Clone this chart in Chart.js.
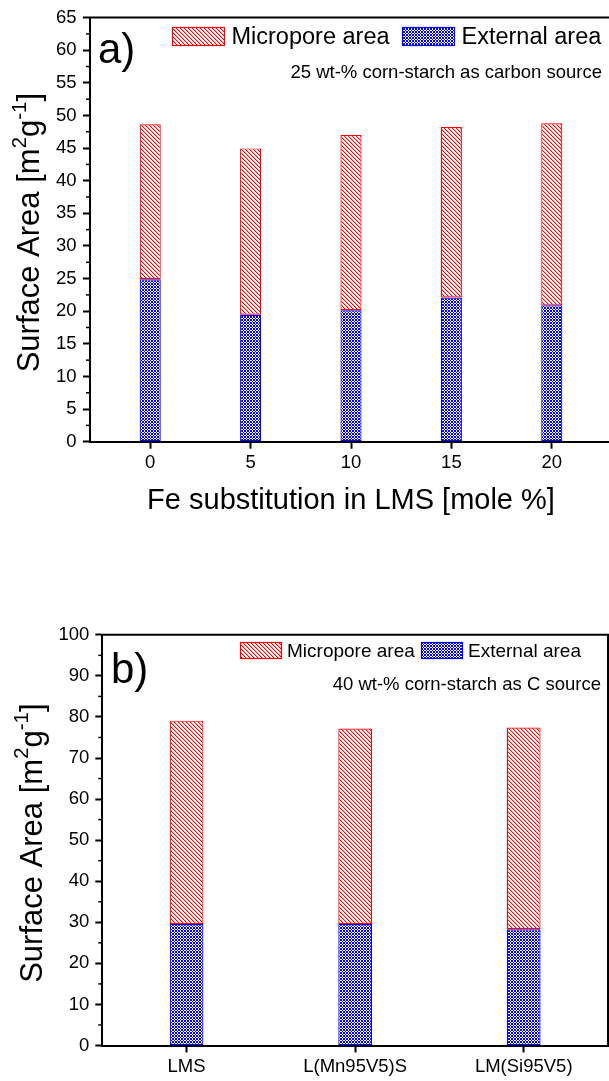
<!DOCTYPE html>
<html>
<head>
<meta charset="utf-8">
<script src="https://cdn.jsdelivr.net/npm/chart.js@4.4.1/dist/chart.umd.min.js"></script>
<style>
  html, body { margin: 0; padding: 0; background: #fff; width: 609px; height: 1081px; overflow: hidden; }
  canvas { position: absolute; left: 0; }
  #chartA { top: 0; }
  #chartB { top: 560px; }
</style>
</head>
<body>
<canvas id="chartA" width="620" height="530"></canvas>
<canvas id="chartB" width="609" height="521"></canvas>
<script>
// panel a) : Fe substitution series
const feLevels = [0, 5, 10, 15, 20];
const externalA = [24.9, 19.45, 20.15, 22.1, 20.9];
const microporeA = [23.75, 25.5, 26.85, 26.15, 27.9];
const yTicksA = [0, 5, 10, 15, 20, 25, 30, 35, 40, 45, 50, 55, 60, 65];

// panel b) : samples with 40 wt-% starch
const samples = ['LMS', 'L(Mn95V5)S', 'LM(Si95V5)'];
const externalB = [29.6, 29.6, 28.3];
const microporeB = [49.5, 47.6, 49.1];
const yTicksB = [0, 10, 20, 30, 40, 50, 60, 70, 80, 90, 100];

const FONT = "'Liberation Sans', Arial, Helvetica, sans-serif";
Chart.defaults.font.family = FONT;
Chart.defaults.color = '#000';

// hatch patterns: red "\\\" lines (4 px) and blue crosshatch (3 px)
function makePattern(target, kind) {
    const n = kind === 'hatch' ? 4 : 3;
    const c = document.createElement('canvas');
    c.width = n; c.height = n;
    const g = c.getContext('2d');
    g.fillStyle = '#fff';
    g.fillRect(0, 0, n, n);
    for (let x = 0; x < n; x++) {
        for (let y = 0; y < n; y++) {
            const d = (x - y + n) % n, s = (x + y) % n;
            if (kind === 'hatch') {
                if (d === 0) { g.fillStyle = '#ff0000'; g.fillRect(x, y, 1, 1); }
                else if (d === 1) { g.fillStyle = 'rgba(255,0,0,0.35)'; g.fillRect(x, y, 1, 1); }
            } else if (d === 0 || s === 0) {
                g.fillStyle = '#0000ff'; g.fillRect(x, y, 1, 1);
            }
        }
    }
    return target.getContext('2d').createPattern(c, 'repeat');
}

function drawYTitle(ctx, xBase, yMid, size) {
    const parts = [['Surface Area [m', 0], ['2', 1], ['g', 0], ['-1', 1], [']', 0]];
    const supSize = size * 0.66;
    ctx.save();
    ctx.translate(xBase, yMid);
    ctx.rotate(-Math.PI / 2);
    ctx.textBaseline = 'alphabetic';
    ctx.textAlign = 'left';
    ctx.fillStyle = '#000';
    let total = 0;
    parts.forEach(p => {
        ctx.font = (p[1] ? supSize : size) + 'px ' + FONT;
        p.w = ctx.measureText(p[0]).width;
        total += p.w;
    });
    let x = -total / 2;
    parts.forEach(p => {
        ctx.font = (p[1] ? supSize : size) + 'px ' + FONT;
        ctx.fillText(p[0], x, p[1] ? -size * 0.42 : 0);
        x += p.w;
    });
    ctx.restore();
}

// frame, minor ticks, legend, notes
function decor(cfg) {
    return {
        id: 'decor',
        afterDraw(chart) {
            const ctx = chart.ctx, a = chart.chartArea, ys = chart.scales.y;
            ctx.save();
            ctx.strokeStyle = '#000';
            ctx.lineWidth = 2;
            ctx.beginPath();
            ctx.moveTo(a.left - 1, a.top);
            ctx.lineTo(a.right, a.top);
            if (cfg.rightFrame) ctx.lineTo(a.right, a.bottom);
            ctx.stroke();

            // minor ticks half way between majors
            ctx.lineWidth = 1.5;
            for (let i = 0; i < cfg.yTicks.length - 1; i++) {
                const py = ys.getPixelForValue((cfg.yTicks[i] + cfg.yTicks[i + 1]) / 2);
                ctx.beginPath();
                ctx.moveTo(a.left - 4, py);
                ctx.lineTo(a.left, py);
                ctx.stroke();
            }

            // legend
            const L = cfg.legend;
            ctx.lineWidth = 1.2;
            ctx.fillStyle = cfg.patHatch;
            ctx.fillRect(L.x1, L.y, L.w, L.h);
            ctx.strokeStyle = '#ff0000';
            ctx.strokeRect(L.x1 + 0.5, L.y + 0.5, L.w - 1, L.h - 1);
            ctx.fillStyle = cfg.patCross;
            ctx.fillRect(L.x2, L.y, L.w, L.h);
            ctx.strokeStyle = '#0000ff';
            ctx.strokeRect(L.x2 + 0.5, L.y + 0.5, L.w - 1, L.h - 1);
            ctx.fillStyle = '#000';
            ctx.textBaseline = 'middle';
            ctx.textAlign = 'left';
            ctx.font = L.size + 'px ' + FONT;
            ctx.fillText('Micropore area', L.x1 + L.w + L.gap, L.y + L.h / 2 + 1);
            ctx.fillText('External area', L.x2 + L.w + L.gap, L.y + L.h / 2 + 1);

            // note under legend
            ctx.textAlign = 'right';
            ctx.font = cfg.noteSize + 'px ' + FONT;
            ctx.fillText(cfg.note, cfg.noteX, cfg.noteY);

            // panel letter
            ctx.textAlign = 'left';
            ctx.textBaseline = 'alphabetic';
            ctx.font = '42px ' + FONT;
            ctx.fillText(cfg.letter, cfg.letterX, cfg.letterY);
            ctx.restore();

            drawYTitle(ctx, cfg.titleX, (a.top + a.bottom) / 2 + 3, 31);
        }
    };
}

function axisCommon() {
    return {
        grid: { offset: false, drawOnChartArea: false, drawTicks: true, tickLength: 7, tickWidth: 2, tickColor: '#000' },
        border: { display: true, color: '#000', width: 2 }
    };
}

// ---------- panel a ----------
const canvasA = document.getElementById('chartA');
const hatchA = makePattern(canvasA, 'hatch');
const crossA = makePattern(canvasA, 'cross');

new Chart(canvasA, {
    type: 'bar',
    data: {
        datasets: [
            {
                label: 'External area',
                data: feLevels.map((x, i) => ({ x: x, y: externalA[i] })),
                backgroundColor: crossA, borderColor: '#0000ff', borderWidth: 1.2, borderSkipped: false
            },
            {
                label: 'Micropore area',
                data: feLevels.map((x, i) => ({ x: x, y: microporeA[i] })),
                backgroundColor: hatchA, borderColor: '#ff0000', borderWidth: 1.2, borderSkipped: false
            }
        ]
    },
    options: {
        responsive: false,
        animation: false,
        devicePixelRatio: 1,
        layout: { padding: { top: 15, right: 8, left: 0, bottom: 0 } },
        plugins: { legend: { display: false }, tooltip: { enabled: false } },
        datasets: { bar: { categoryPercentage: 1, barPercentage: 0.21 } },
        scales: {
            x: Object.assign(axisCommon(), {
                type: 'linear', stacked: true, min: -3, max: 23, offset: false,
                afterBuildTicks: s => { s.ticks = feLevels.map(v => ({ value: v })); },
                afterFit: s => { s.height = 88.3; },
                ticks: { padding: 3, font: { size: 18.5 }, color: '#000', autoSkip: false, maxRotation: 0 },
                title: { display: true, text: 'Fe substitution in LMS [mole %]', color: '#000',
                         font: { size: 29 }, padding: { top: 0, bottom: 12 } }
            }),
            y: Object.assign(axisCommon(), {
                stacked: true, min: 0, max: 65,
                afterBuildTicks: s => { s.ticks = yTicksA.map(v => ({ value: v })); },
                afterFit: s => { s.width = 90; },
                ticks: { padding: 6.5, font: { size: 18.5 }, color: '#000', autoSkip: false }
            })
        }
    },
    plugins: [decor({
        yTicks: yTicksA, rightFrame: false, patHatch: hatchA, patCross: crossA,
        legend: { x1: 172, x2: 402, y: 27, w: 53, h: 19, gap: 6.5, size: 23.5 },
        note: '25 wt-% corn-starch as carbon source', noteSize: 18.5, noteX: 602, noteY: 73,
        letter: 'a)', letterX: 98, letterY: 63,
        titleX: 39
    })]
});

// ---------- panel b ----------
const canvasB = document.getElementById('chartB');
const hatchB = makePattern(canvasB, 'hatch');
const crossB = makePattern(canvasB, 'cross');

new Chart(canvasB, {
    type: 'bar',
    data: {
        labels: samples,
        datasets: [
            {
                label: 'External area', data: externalB,
                backgroundColor: crossB, borderColor: '#0000ff', borderWidth: 1.2, borderSkipped: false
            },
            {
                label: 'Micropore area', data: microporeB,
                backgroundColor: hatchB, borderColor: '#ff0000', borderWidth: 1.2, borderSkipped: false
            }
        ]
    },
    options: {
        responsive: false,
        animation: false,
        devicePixelRatio: 1,
        layout: { padding: { top: 74.8, right: 1, left: 0, bottom: 0 } },
        plugins: { legend: { display: false }, tooltip: { enabled: false } },
        datasets: { bar: { categoryPercentage: 1, barPercentage: 0.2 } },
        scales: {
            x: Object.assign(axisCommon(), {
                stacked: true, offset: true,
                afterFit: s => { s.height = 35.5; },
                ticks: { padding: 3.4, font: { size: 18.5 }, color: '#000', autoSkip: false, maxRotation: 0 }
            }),
            y: Object.assign(axisCommon(), {
                stacked: true, min: 0, max: 100,
                afterBuildTicks: s => { s.ticks = yTicksB.map(v => ({ value: v })); },
                afterFit: s => { s.width = 102.3; },
                ticks: { padding: 6, font: { size: 18.5 }, color: '#000', autoSkip: false }
            })
        }
    },
    plugins: [decor({
        yTicks: yTicksB, rightFrame: true, patHatch: hatchB, patCross: crossB,
        legend: { x1: 240, x2: 421, y: 82, w: 42, h: 17, gap: 5, size: 19 },
        note: '40 wt-% corn-starch as C source', noteSize: 18.5, noteX: 601, noteY: 125,
        letter: 'b)', letterX: 111, letterY: 123,
        titleX: 41.5
    })]
});
</script>
</body>
</html>
